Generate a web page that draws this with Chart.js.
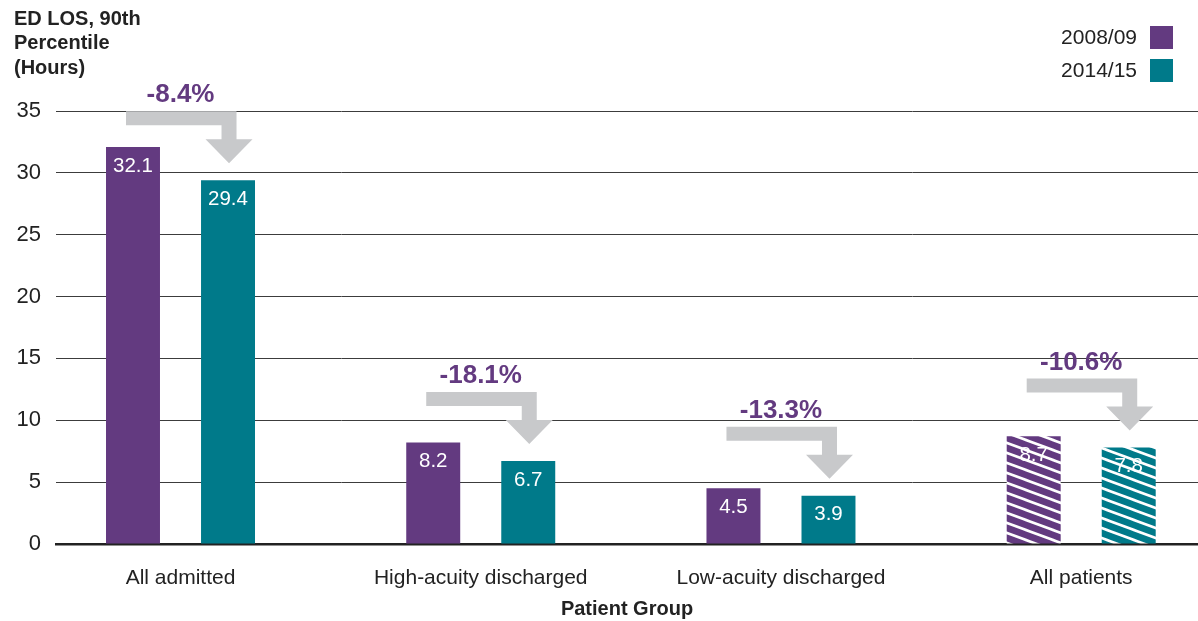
<!DOCTYPE html>
<html>
<head>
<meta charset="utf-8">
<title>ED LOS, 90th Percentile</title>
<script src="https://cdn.jsdelivr.net/npm/chart.js@4.4.1/dist/chart.umd.min.js"></script>
<style>
  html, body { margin: 0; padding: 0; background: #ffffff; overflow: hidden; }
  #wrap { position: relative; width: 1198px; height: 621px; }
</style>
</head>
<body>
<div id="wrap"><canvas id="chart"></canvas></div>
<script>
// ---- data ----
const categories = ['All admitted', 'High-acuity discharged', 'Low-acuity discharged', 'All patients'];
const seriesNames = ['2008/09', '2014/15'];
const los0809 = [32.1, 8.2, 4.5, 8.7];
const los1415 = [29.4, 6.7, 3.9, 7.8];
const changeLabels = ['-8.4%', '-18.1%', '-13.3%', '-10.6%'];
const hatchedGroups = [false, false, false, true];
const yTicks = [0, 5, 10, 15, 20, 25, 30, 35];
const titleLines = ['ED LOS, 90th', 'Percentile', '(Hours)'];
const xTitle = 'Patient Group';

// ---- styling ----
const PURPLE = '#633a80';
const TEAL = '#007a8a';
const ARROW = '#c8c9cb';
const INK = '#222222';
const FONT = '"Liberation Sans", Arial, Helvetica, sans-serif';

// diagonal white stripes over a solid fill
function hatch(color) {
  const w = 27, h = 10;
  const t = document.createElement('canvas');
  t.width = w; t.height = h;
  const g = t.getContext('2d');
  g.fillStyle = color;
  g.fillRect(0, 0, w, h);
  g.strokeStyle = '#ffffff';
  g.lineWidth = 2.6;
  for (const dy of [-h, 0, h]) {
    g.beginPath();
    g.moveTo(-2, dy - 2 * h / w);
    g.lineTo(w + 2, dy + h + 2 * h / w);
    g.stroke();
  }
  return g.createPattern(t, 'repeat');
}

const fills0809 = los0809.map((v, i) => hatchedGroups[i] ? hatch(PURPLE) : PURPLE);
const fills1415 = los1415.map((v, i) => hatchedGroups[i] ? hatch(TEAL) : TEAL);

// white value labels just inside the top of each bar
const valueLabels = {
  id: 'valueLabels',
  afterDatasetsDraw(chart) {
    const ctx = chart.ctx;
    ctx.save();
    ctx.fillStyle = '#ffffff';
    ctx.font = '20.5px ' + FONT;
    ctx.textAlign = 'center';
    ctx.textBaseline = 'middle';
    chart.data.datasets.forEach((ds, di) => {
      chart.getDatasetMeta(di).data.forEach((bar, i) => {
        ctx.fillText(ds.data[i].y.toFixed(1), bar.x, bar.y + 19);
      });
    });
    ctx.restore();
  }
};

// grey elbow arrows from the earlier bar to the later one, with the % change
const changeArrows = {
  id: 'changeArrows',
  afterDatasetsDraw(chart) {
    const ctx = chart.ctx;
    const a = chart.getDatasetMeta(0).data;
    const b = chart.getDatasetMeta(1).data;
    ctx.save();
    a.forEach((p, i) => {
      const q = b[i];
      const tipY = q.y - 17;
      const top = tipY - 52;
      const band = 14, shaft = 15, headH = 24, headW = 47;
      const cx = q.x + 1;
      const left = p.x - 7;
      ctx.fillStyle = ARROW;
      ctx.beginPath();
      ctx.moveTo(left, top);
      ctx.lineTo(cx + shaft / 2, top);
      ctx.lineTo(cx + shaft / 2, tipY - headH);
      ctx.lineTo(cx + headW / 2, tipY - headH);
      ctx.lineTo(cx, tipY);
      ctx.lineTo(cx - headW / 2, tipY - headH);
      ctx.lineTo(cx - shaft / 2, tipY - headH);
      ctx.lineTo(cx - shaft / 2, top + band);
      ctx.lineTo(left, top + band);
      ctx.closePath();
      ctx.fill();

      ctx.fillStyle = PURPLE;
      ctx.font = 'bold 26px ' + FONT;
      ctx.textAlign = 'center';
      ctx.textBaseline = 'middle';
      ctx.fillText(changeLabels[i], (p.x + q.x) / 2, top - 16);
    });
    ctx.restore();
  }
};

// stacked legend in the top-right corner: label then swatch
const cornerLegend = {
  id: 'cornerLegend',
  afterDraw(chart) {
    const ctx = chart.ctx;
    const right = chart.width - 25;
    const size = 23;
    ctx.save();
    ctx.font = '21px ' + FONT;
    ctx.textAlign = 'right';
    ctx.textBaseline = 'middle';
    chart.data.datasets.forEach((ds, i) => {
      const cy = 37.5 + i * 33;
      ctx.fillStyle = ds.legendColor;
      ctx.fillRect(right - size, cy - size / 2, size, size);
      ctx.fillStyle = INK;
      ctx.fillText(ds.label, right - size - 13, cy + 1);
    });
    ctx.restore();
  }
};

new Chart(document.getElementById('chart'), {
  type: 'bar',
  data: {
    datasets: [
      {
        label: seriesNames[0],
        data: los0809.map((v, i) => ({ x: i, y: v })),
        backgroundColor: fills0809,
        legendColor: PURPLE,
        categoryPercentage: 0.633,
        barPercentage: 0.568
      },
      {
        label: seriesNames[1],
        data: los1415.map((v, i) => ({ x: i, y: v })),
        backgroundColor: fills1415,
        legendColor: TEAL,
        categoryPercentage: 0.633,
        barPercentage: 0.568
      }
    ]
  },
  options: {
    responsive: true,
    maintainAspectRatio: false,
    animation: false,
    events: [],
    layout: { padding: { left: 14, right: 0, top: 0, bottom: 0 } },
    plugins: {
      legend: { display: false },
      tooltip: { enabled: false },
      title: {
        display: true,
        text: titleLines,
        align: 'start',
        color: INK,
        font: { family: FONT, size: 20, weight: 'bold', lineHeight: 1.225 },
        padding: { top: 7, bottom: 30.5 }
      }
    },
    scales: {
      x: {
        type: 'linear',
        offset: false,
        min: -0.4147,
        max: 3.389,
        afterBuildTicks(scale) {
          scale.ticks = categories.map((c, i) => ({ value: i }));
        },
        afterFit(scale) { scale.height = 77; },
        grid: { display: false },
        border: { display: true, color: INK, width: 2.5 },
        ticks: {
          callback: (v) => categories[v],
          color: INK,
          font: { family: FONT, size: 21 },
          padding: 14,
          autoSkip: false,
          maxRotation: 0
        },
        title: {
          display: true,
          text: xTitle,
          color: INK,
          font: { family: FONT, size: 20, weight: 'bold', lineHeight: 1.2 },
          padding: { top: 0, bottom: 0 }
        }
      },
      y: {
        min: 0,
        max: 35,
        afterBuildTicks(scale) {
          scale.ticks = yTicks.map(v => ({ value: v }));
        },
        afterFit(scale) { scale.width = 42; },
        grid: { color: '#3c3c3c', lineWidth: 1, drawTicks: false },
        border: { display: false },
        ticks: {
          color: INK,
          font: { family: FONT, size: 22 },
          padding: 15
        }
      }
    }
  },
  plugins: [changeArrows, valueLabels, cornerLegend]
});
</script>
</body>
</html>
